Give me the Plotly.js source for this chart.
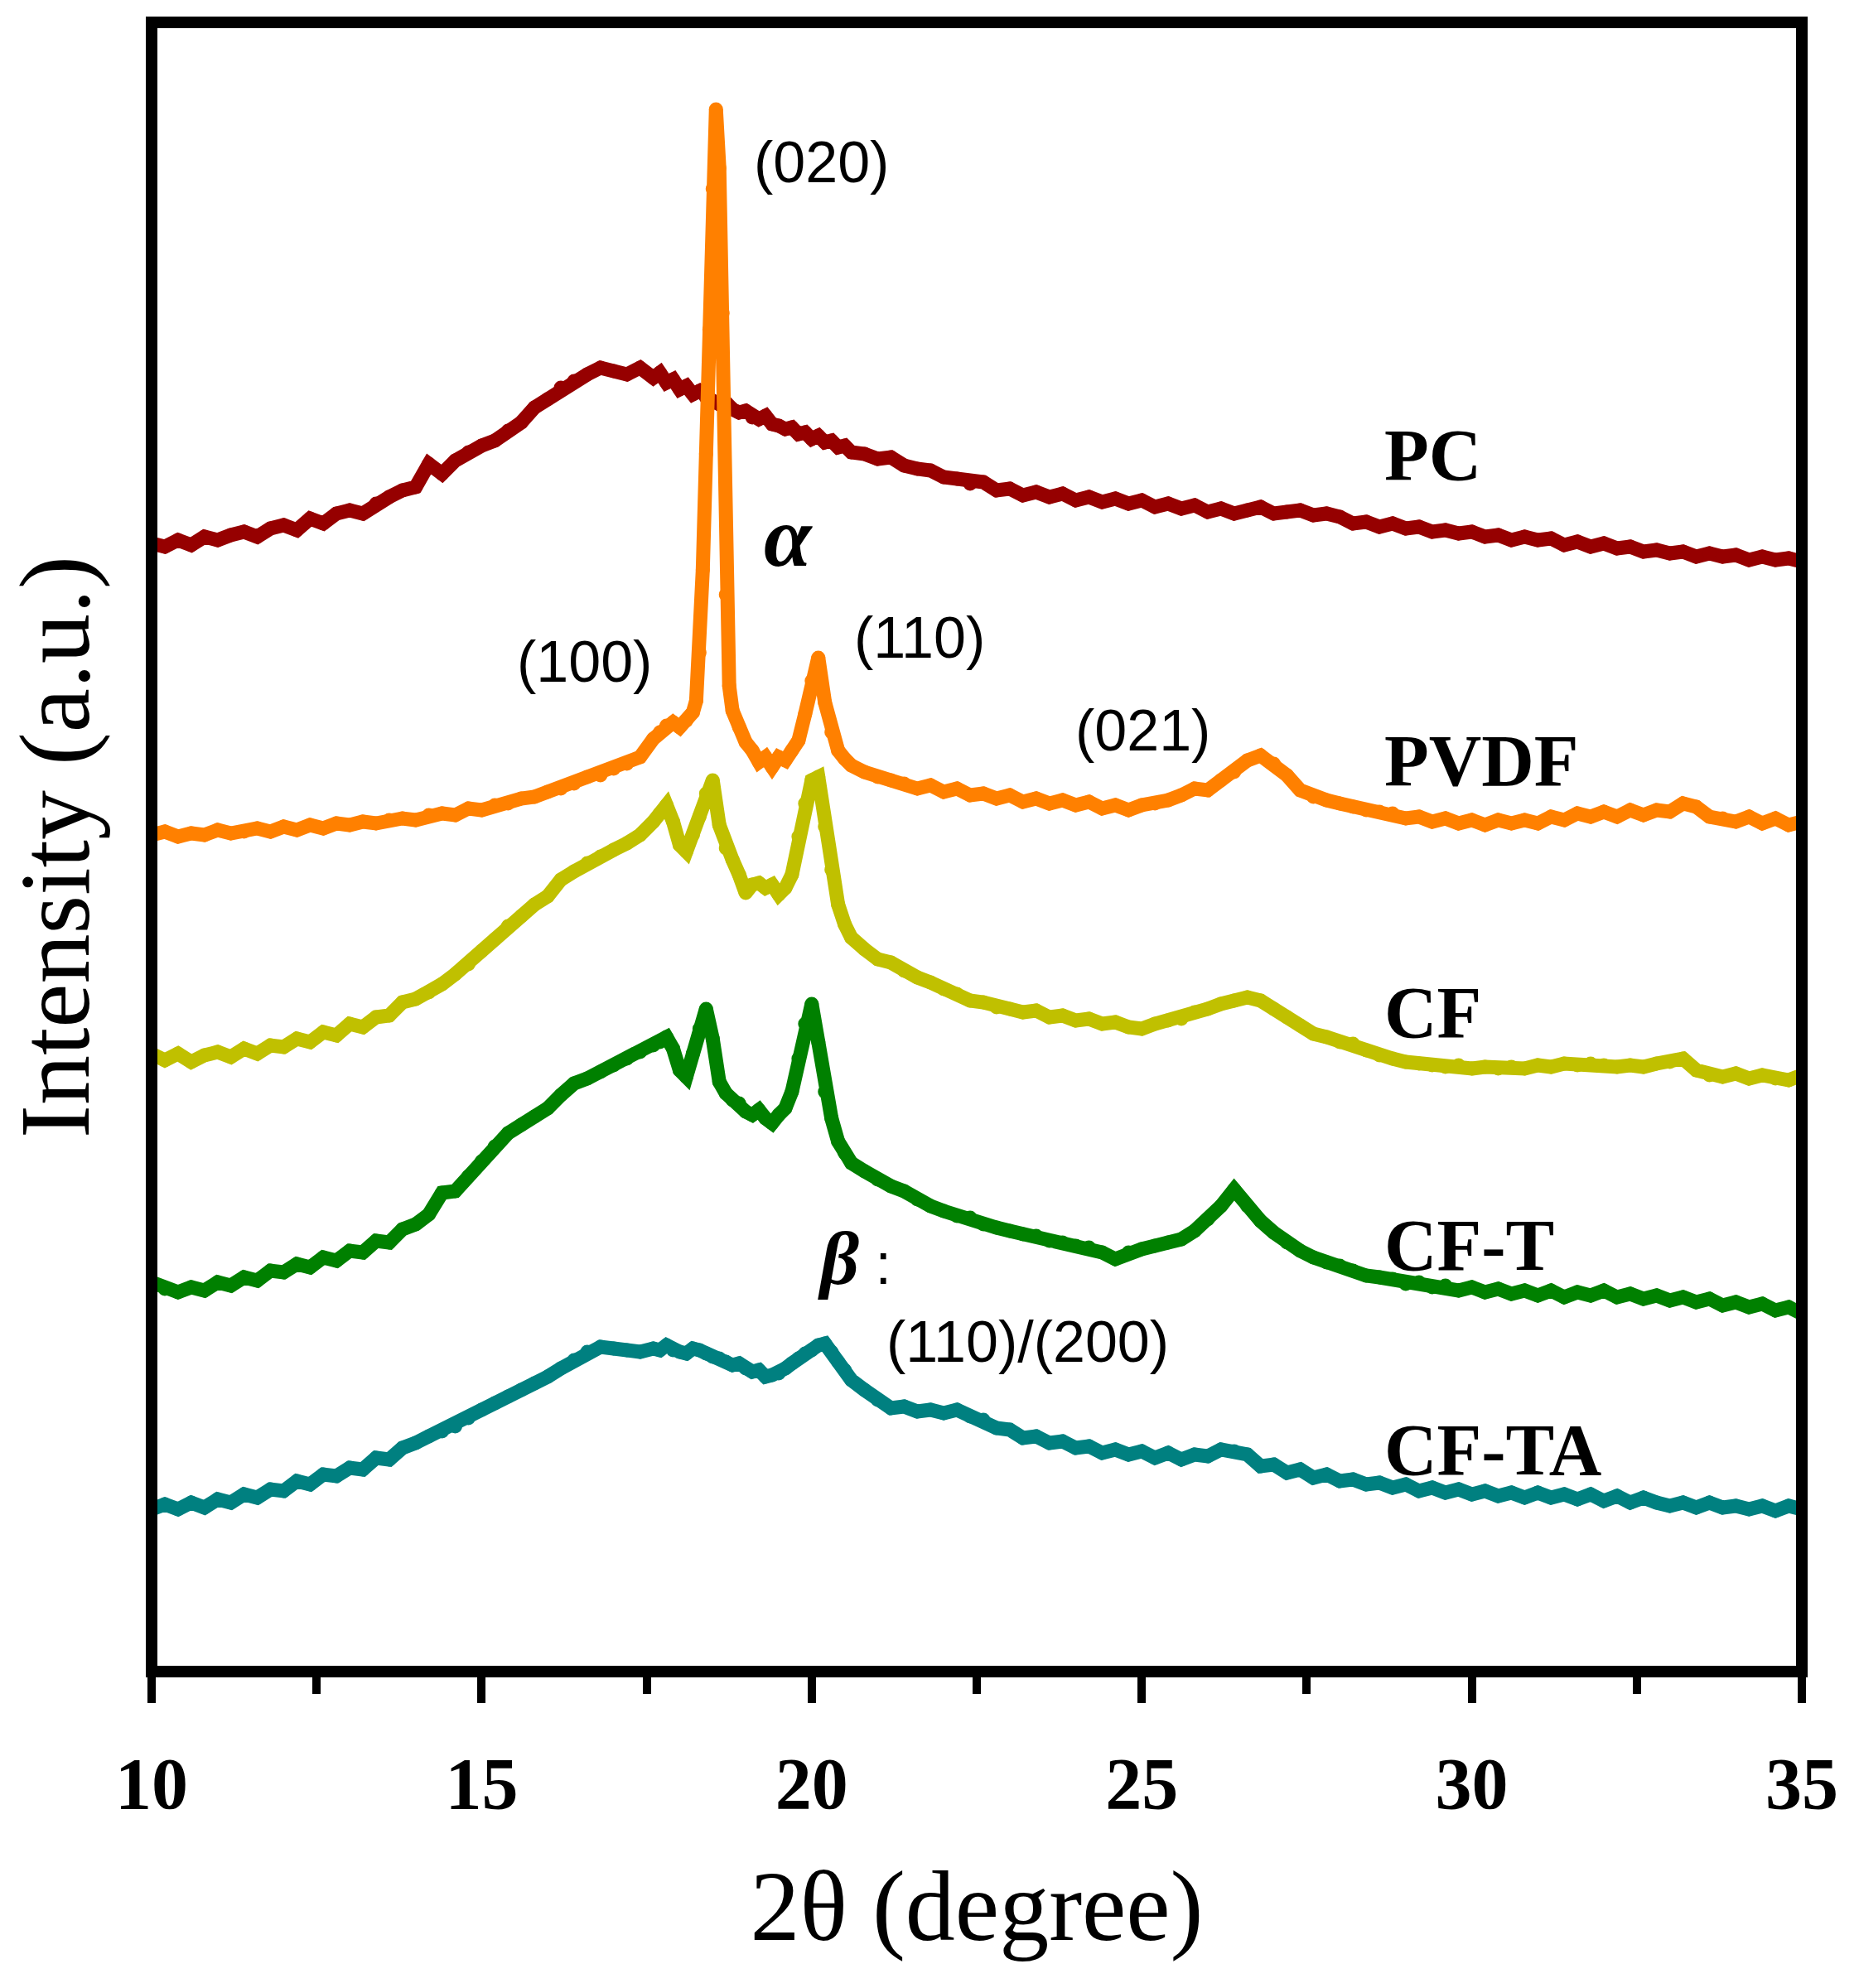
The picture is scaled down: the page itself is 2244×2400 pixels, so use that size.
<!DOCTYPE html>
<html>
<head>
<meta charset="utf-8">
<script src="https://cdn.plot.ly/plotly-3.0.1.min.js"></script>
<style>
html,body{margin:0;padding:0;background:#ffffff;}
#chart{width:2244px;height:2400px;}
</style>
</head>
<body>
<div id="chart"></div>
<script>
// ---------------- DATA ----------------
// 2-theta grid (degrees) shared by PC, CF, CF-T, CF-TA
const twoTheta = [10.0,10.2,10.4,10.6,10.8,11.0,11.2,11.4,11.6,11.8,12.0,12.2,12.4,12.6,12.8,13.0,13.2,13.4,13.6,13.8,14.0,14.2,14.4,14.6,14.8,15.0,15.2,15.4,15.6,15.8,16.0,16.2,16.4,16.6,16.8,17.0,17.2,17.4,17.6,
17.7,17.8,17.9,18.0,18.1,18.2,18.3,18.4,18.5,18.6,18.7,18.8,18.9,19.0,19.1,19.2,19.3,19.4,19.5,19.6,19.7,19.8,19.9,20.0,20.1,20.2,20.3,20.4,20.5,20.6,
20.8,21.0,21.2,21.4,21.6,21.8,22.0,22.2,22.4,22.6,22.8,23.0,23.2,23.4,23.6,23.8,24.0,24.2,24.4,24.6,24.8,25.0,25.2,25.4,25.6,25.8,26.0,26.2,26.4,26.6,26.8,27.0,27.2,27.4,27.6,27.8,28.0,28.2,28.4,28.6,28.8,29.0,29.2,29.4,29.6,29.8,30.0,30.2,30.4,30.6,30.8,31.0,31.2,31.4,31.6,31.8,32.0,32.2,32.4,32.6,32.8,33.0,33.2,33.4,33.6,33.8,34.0,34.2,34.4,34.6,34.8,35.0];

// finer grid for PVDF (sharp (020) reflection)
const pvdfTheta = [10.0,10.2,10.4,10.6,10.8,11.0,11.2,11.4,11.6,11.8,12.0,12.2,12.4,12.6,12.8,13.0,13.2,13.4,13.6,13.8,14.0,14.2,14.4,14.6,14.8,15.0,15.2,15.4,15.6,15.8,16.0,16.2,16.4,16.6,16.8,17.0,17.2,17.4,17.6,
17.7,17.8,17.9,18.0,18.1,18.2,18.25,18.3,18.35,18.4,18.45,18.5,18.55,18.6,18.65,18.7,18.75,18.8,18.9,19.0,19.1,19.2,19.3,19.4,19.5,19.6,19.7,19.8,19.9,20.0,20.1,20.2,20.3,20.4,20.5,20.6,
20.8,21.0,21.2,21.4,21.6,21.8,22.0,22.2,22.4,22.6,22.8,23.0,23.2,23.4,23.6,23.8,24.0,24.2,24.4,24.6,24.8,25.0,25.2,25.4,25.6,25.8,26.0,26.2,26.4,26.6,26.8,27.0,27.2,27.4,27.6,27.8,28.0,28.2,28.4,28.6,28.8,29.0,29.2,29.4,29.6,29.8,30.0,30.2,30.4,30.6,30.8,31.0,31.2,31.4,31.6,31.8,32.0,32.2,32.4,32.6,32.8,33.0,33.2,33.4,33.6,33.8,34.0,34.2,34.4,34.6,34.8,35.0];

// intensities (a.u., stacked offsets as plotted)
const pcIntensity = [1362,1358,1366,1360,1370,1366,1372,1376,1370,1380,1384,1378,1392,1386,1398,1402,1398,1410,1418,1426,1430,1458,1446,1462,1472,1480,1486,1498,1508,1526,1536,1550,1558,1566,1574,1570,1566,1574,1562,
1568,1556,1560,1548,1552,1542,1546,1538,1534,1530,1532,1524,1520,1522,1514,1512,1516,1506,1504,1500,1502,1494,1496,1488,1492,1484,1486,1478,1480,1472,
1470,1464,1466,1456,1452,1450,1442,1440,1434,1436,1426,1428,1420,1424,1418,1422,1414,1418,1412,1416,1410,1414,1406,1410,1404,1408,1400,1404,1398,1402,1406,1398,1400,1402,1396,1398,1394,1386,1388,1382,1386,1380,1382,1376,1378,1374,1376,1370,1372,1366,1370,1366,1368,1360,1364,1358,1362,1356,1358,1352,1354,1350,1352,1346,1350,1346,1348,1342,1346,1342,1344,1340];

const pvdfIntensity = [1010,1014,1008,1012,1010,1016,1012,1014,1018,1014,1020,1016,1022,1018,1024,1022,1026,1024,1028,1030,1028,1034,1036,1034,1042,1040,1046,1048,1054,1056,1062,1066,1072,1080,1082,1090,1096,1104,1126,
1134,1142,1146,1140,1148,1158,1172,1230,1330,1470,1620,1790,1886,1815,1640,1300,1190,1160,1140,1122,1112,1098,1104,1092,1104,1100,1112,1124,1156,1196,1224,1170,1134,1112,1102,1094,
1086,1080,1076,1072,1066,1070,1062,1066,1058,1060,1054,1058,1050,1054,1048,1052,1046,1050,1042,1046,1040,1046,1048,1052,1058,1066,1064,1076,1086,1100,1106,1096,1082,1064,1056,1052,1048,1044,1040,1038,1036,1030,1032,1026,1030,1024,1028,1022,1028,1024,1028,1024,1032,1028,1036,1032,1038,1032,1040,1034,1040,1038,1048,1044,1032,1030,1026,1032,1024,1030,1022,1026];

const cfIntensity = [746,738,746,736,744,748,742,752,746,756,754,764,760,772,768,782,778,790,792,808,812,820,830,842,854,870,884,900,912,926,936,956,966,976,984,992,1000,1010,1026,
1036,1046,1026,998,990,1010,1032,1060,1076,1022,994,980,962,940,950,952,946,950,938,946,962,1008,1048,1076,1080,1020,968,926,902,886,
872,860,856,846,838,832,824,818,810,808,802,800,796,798,790,792,786,788,782,784,778,776,782,786,788,796,800,806,810,814,810,800,790,780,770,766,760,758,750,744,740,736,734,732,730,732,728,730,728,730,728,732,730,734,732,734,732,730,732,730,734,736,740,726,720,718,722,716,720,716,714,720];

const cfTIntensity = [470,462,458,464,460,470,466,476,472,484,482,492,488,500,496,508,506,520,518,534,540,552,578,580,598,616,634,650,660,670,680,696,710,716,724,732,740,748,756,
760,766,752,726,718,746,776,800,764,712,698,690,686,676,672,678,668,662,672,680,700,740,782,806,760,700,668,640,626,614,
604,594,586,580,570,562,556,550,548,540,536,532,528,526,520,518,514,512,506,498,506,510,514,518,522,532,546,562,582,562,544,530,518,508,500,494,490,484,478,476,474,468,470,464,466,460,464,458,462,456,460,454,460,452,458,454,460,452,456,450,454,448,452,446,450,442,446,440,444,436,440,432];

const cfTAIntensity = [196,202,196,204,198,208,204,214,210,220,218,230,226,238,236,246,244,258,256,270,276,284,290,296,306,316,324,332,340,348,356,366,376,386,392,390,388,386,390,
388,394,388,386,384,390,388,384,380,378,374,370,372,366,362,364,356,358,360,366,372,378,384,388,394,396,386,374,364,352,
340,328,318,320,314,316,312,316,308,304,294,292,282,284,276,278,270,272,264,268,262,266,258,264,256,262,260,268,266,262,248,250,240,244,234,238,230,232,226,228,222,226,218,222,216,220,214,218,212,216,210,216,210,214,208,214,206,212,204,210,204,200,204,198,204,198,200,196,200,194,200,196];

const sampleNames = ['PC','PVDF','CF','CF-T','CF-TA'];
const xTickValues = [10,15,20,25,30,35];
const xTickLabels = ['10','15','20','25','30','35'];
const xMinorTickValues = [12.5,17.5,22.5,27.5,32.5];
const peakLabels = ['(020)','(100)','(110)','(021)','(110)/(200)'];

// ---------------- STYLE ----------------
const seriesColors = ['#960000','#FF8000','#C0C000','#008000','#008080'];
const SERIF = "'Liberation Serif', 'Times New Roman', serif";
const SANS = "'Liberation Sans', Arial, sans-serif";

const xs = [twoTheta, pvdfTheta, twoTheta, twoTheta, twoTheta];
const ys = [pcIntensity, pvdfIntensity, cfIntensity, cfTIntensity, cfTAIntensity];

const traces = sampleNames.map((n, i) => ({
  type: 'scatter',
  mode: 'lines+markers',
  name: n,
  x: xs[i],
  y: ys[i],
  line: {color: seriesColors[i], width: 17, shape: 'linear'},
  marker: {color: seriesColors[i], size: 17, line: {width: 0}},
  hoverinfo: 'skip',
  cliponaxis: true
}));

function note(text, x, y, opts) {
  return Object.assign({
    text: text, x: x, y: y, xref: 'x', yref: 'y',
    showarrow: false, xanchor: 'center', yanchor: 'middle',
    font: {family: SANS, size: 70, color: '#000'}
  }, opts || {});
}

const labelFont = {family: SERIF, size: 88, color: '#000', weight: 'bold'};
const annotations = [
  note(peakLabels[0], 20.15, 1822),
  note(peakLabels[1], 16.56, 1219),
  note(peakLabels[2], 21.63, 1248),
  note(peakLabels[3], 25.02, 1136),
  note(peakLabels[4], 23.27, 398),
  note('<b><i>α</i></b>', 19.64, 1371, {font: {family: SERIF, size: 104, color: '#000'}}),
  note('<b><i>β</i></b><span style="font-family:\'Liberation Sans\';font-size:70px"> :</span>', 20.07, 499,
       {xanchor: 'left', font: {family: SERIF, size: 92, color: '#000'}}),
  note(sampleNames[0], 28.65, 1469, {xanchor: 'left', font: labelFont}),
  note(sampleNames[1], 28.65, 1100, {xanchor: 'left', font: labelFont}),
  note(sampleNames[2], 28.65, 796, {xanchor: 'left', font: labelFont}),
  note(sampleNames[3], 28.65, 515, {xanchor: 'left', font: labelFont}),
  note(sampleNames[4], 28.65, 268, {xanchor: 'left', font: labelFont})
];

const layout = {
  width: 2244,
  height: 2400,
  margin: {l: 183, r: 69, t: 27, b: 382, pad: 0},
  paper_bgcolor: '#ffffff',
  plot_bgcolor: '#ffffff',
  showlegend: false,
  xaxis: {
    range: [10, 35],
    tickmode: 'array',
    tickvals: xTickValues,
    ticktext: xTickLabels,
    ticks: 'outside',
    ticklen: 37,
    tickwidth: 10,
    tickcolor: '#000',
    ticklabelstandoff: 21,
    tickfont: {family: SERIF, size: 88, color: '#000', weight: 'bold'},
    minor: {tickmode: 'array', tickvals: xMinorTickValues, ticks: 'outside', ticklen: 26, tickwidth: 10, tickcolor: '#000'},
    showline: false,
    showgrid: false,
    zeroline: false,
    automargin: false,
    title: {text: '2θ (degree)', font: {family: SERIF, size: 120, color: '#000'}, standoff: 57}
  },
  yaxis: {
    range: [0, 1991],
    showticklabels: false,
    ticks: '',
    showline: false,
    showgrid: false,
    zeroline: false,
    automargin: false,
    title: {text: 'Intensity (a.u.)', font: {family: SERIF, size: 120, color: '#000'}, standoff: 34}
  },
  shapes: [{
    type: 'rect', xref: 'paper', yref: 'paper', x0: 0, x1: 1, y0: 0, y1: 1,
    line: {color: '#000', width: 14}, layer: 'above'
  }],
  annotations: annotations
};

Plotly.newPlot('chart', traces, layout, {staticPlot: true, displayModeBar: false});
</script>
</body>
</html>
